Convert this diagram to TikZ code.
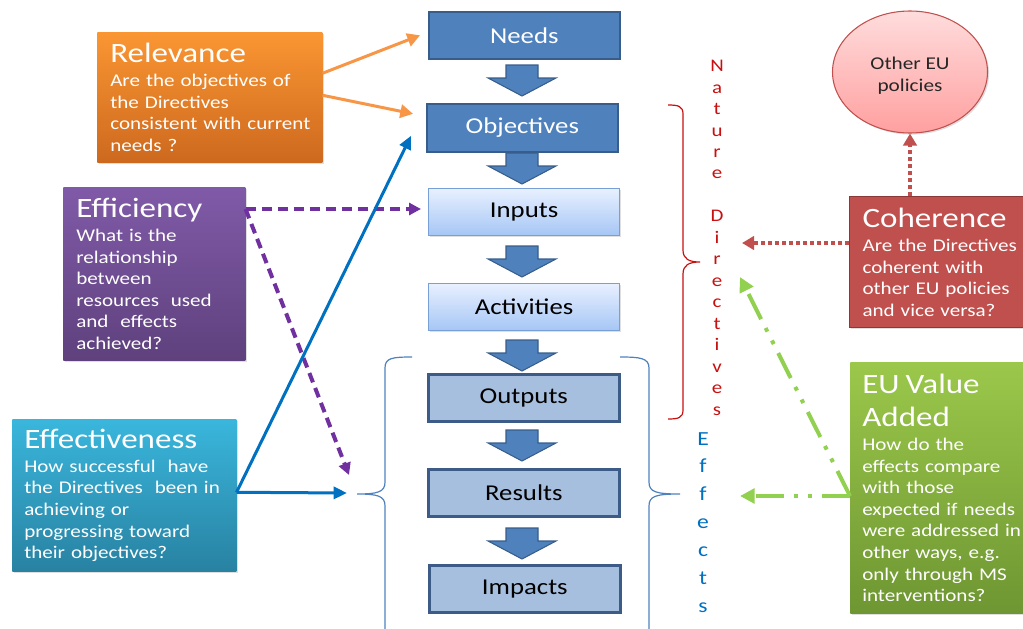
\documentclass[tikz,border=0pt]{standalone}
\usepackage{fontspec}
\setmainfont{Carlito}[FakeStretch=1.18]
\usetikzlibrary{arrows.meta,shapes.geometric,shadows,calc}
\newdimen\pu \pu=0.75pt
\definecolor{cblue}{RGB}{79,129,189}
\definecolor{cbord}{RGB}{56,93,138}
\definecolor{ltop}{RGB}{232,240,255}
\definecolor{lbot}{RGB}{165,198,245}
\definecolor{lbord}{RGB}{120,160,215}
\definecolor{mblue}{RGB}{167,191,222}
\definecolor{mbord}{RGB}{60,92,135}
\definecolor{orTop}{RGB}{250,150,50}
\definecolor{orBot}{RGB}{205,105,30}
\definecolor{orLine}{RGB}{247,150,70}
\definecolor{puTop}{RGB}{128,90,168}
\definecolor{puBot}{RGB}{95,65,125}
\definecolor{puLine}{RGB}{112,48,160}
\definecolor{cyTop}{RGB}{58,182,220}
\definecolor{cyBot}{RGB}{40,130,162}
\definecolor{blLine}{RGB}{0,112,192}
\definecolor{reFill}{RGB}{192,80,77}
\definecolor{reBord}{RGB}{140,56,54}
\definecolor{grTop}{RGB}{155,200,75}
\definecolor{grBot}{RGB}{110,150,50}
\definecolor{grLine}{RGB}{146,208,80}
\definecolor{elTop}{RGB}{255,220,220}
\definecolor{elBot}{RGB}{255,160,160}
\definecolor{elBord}{RGB}{192,80,77}
\definecolor{nred}{RGB}{200,16,16}
\definecolor{eblue}{RGB}{0,112,192}
\definecolor{brBlue}{RGB}{79,129,189}
\newcommand\ttl[1]{\mbox{\fontsize{21}{24}\selectfont #1}}
\newcommand\txtline[1]{\mbox{#1}}
\newcommand\fatarr[2]{\draw[fatarrow] (#1,#2) ++(-16,0) -- ++(32,0) -- ++(0,13) -- ++(18,0) -- ++(-34,18) -- ++(-34,-18) -- ++(18,0) -- cycle;}
\tikzset{
  shd/.style={drop shadow={shadow xshift=1.2pt,shadow yshift=-1.2pt,opacity=0.25}},
  cbox/.style={rectangle, anchor=north west, minimum width=191\pu, minimum height=47\pu, inner sep=0pt, font=\fontsize{17}{20}\selectfont, shd},
  dark/.style={cbox, fill=cblue, draw=cbord, line width=1.2pt, text=white},
  light/.style={cbox, top color=ltop, bottom color=lbot, draw=lbord, line width=0.9pt},
  mid/.style={cbox, fill=mblue, draw=mbord, line width=2pt},
  fatarrow/.style={fill=cblue, draw=cbord, line width=0.8pt},
  qbox/.style={rectangle, anchor=north west, inner xsep=13\pu, inner ysep=0pt, align=left, text=white, font=\fontsize{13.4}{16.2}\selectfont, shd},
  orarr/.style={draw=orLine, line width=2.25pt, -{Triangle[length=9.5pt,width=10pt]}},
  puarr/.style={draw=puLine, line width=3pt, dash pattern=on 7.5pt off 4.5pt, -{Triangle[length=9pt,width=9pt]}},
  blarr/.style={draw=blLine, line width=2.25pt, -{Triangle[length=10pt,width=9pt]}},
  rearr/.style={draw=reFill, line width=3pt, dash pattern=on 3pt off 2.25pt, -{Triangle[length=9pt,width=10pt]}},
  grarr/.style={draw=grLine, line width=3pt, dash pattern=on 21pt off 7.5pt on 3pt off 7.5pt on 3pt off 7.5pt, -{Triangle[length=11pt,width=11pt]}},
  bbrace/.style={draw=brBlue, line width=0.9pt},
  rbrace/.style={draw=nred, line width=0.9pt},
}
\begin{document}
\begin{tikzpicture}[x=0.75pt,y=-0.75pt]
\useasboundingbox (0,0) rectangle (1023,628);
% centre column
\node[dark]  (needs) at (428,11)  {Needs};
\node[dark, minimum height=48\pu]  (obj)   at (426,103) {Objectives};
\node[light] (inp)   at (428,188) {Inputs};
\node[light] (act)   at (428,283) {Activities};
\node[mid]   (out)   at (427,373) {Outputs};
\node[mid]   (res)   at (427,468) {Results};
\node[mid]   (imp)   at (428,564) {Impacts};
\fatarr{522}{65}
\fatarr{522}{153}
\fatarr{522}{246}
\fatarr{522}{340}
\fatarr{522}{430}
\fatarr{522}{528}
% braces
\draw[bbrace] (412,357) .. controls (392,357) and (385,358) .. (385,368) -- (385,482) .. controls (385,492) and (378,494) .. (357,494) .. controls (378,494) and (385,496) .. (385,506) -- (385,630);
\draw[bbrace] (620,357) .. controls (640,357) and (649,358) .. (649,368) -- (649,482) .. controls (649,492) and (656,494) .. (680,494) .. controls (656,494) and (649,496) .. (649,506) -- (649,630);
\draw[rbrace] (668,105) .. controls (678,105) and (683,106) .. (683,114) -- (683,250) .. controls (683,259) and (689,262) .. (700,262) .. controls (689,262) and (683,265) .. (683,274) -- (683,410) .. controls (683,418) and (678,419) .. (668,419);
% vertical texts
\node[font=\fontsize{13.3}{16.1}\selectfont, text=nred, align=center, anchor=north, inner sep=0pt] (nd) at (717,60) {N\\a\\t\\u\\r\\e\\\mbox{}\\D\\i\\r\\e\\c\\t\\i\\v\\e\\s};
\node[font=\fontsize{15}{20.9}\selectfont, text=eblue, align=center, anchor=north, inner sep=0pt] (ef) at (703,432) {E\\f\\f\\e\\c\\t\\s};
% question boxes
\node[qbox, top color=orTop, bottom color=orBot, minimum width=225\pu, minimum height=130\pu, text width=199\pu] (rel) at (97,32)
  {\ttl{Relevance}\\[2pt]\txtline{Are the objectives of}\\\txtline{the Directives}\\\txtline{consistent with current}\\\txtline{needs ?}};
\node[qbox, top color=puTop, bottom color=puBot, minimum width=182\pu, minimum height=173\pu, text width=156\pu] (eff) at (63,187)
  {\ttl{Efficiency}\\[2pt]\txtline{What is the}\\\txtline{relationship}\\\txtline{between}\\\txtline{resources\ \ used}\\\txtline{and\ \ effects}\\\txtline{achieved?}};
\node[qbox, top color=cyTop, bottom color=cyBot, inner xsep=12\pu, minimum width=224\pu, minimum height=152\pu, text width=200\pu] (efs) at (12,419)
  {\ttl{Effectiveness}\\[2pt]\txtline{How successful\ \ have}\\\txtline{the Directives\ \ been in}\\\txtline{achieving or}\\\txtline{progressing toward}\\\txtline{their objectives?}};
\node[qbox, fill=reFill, draw=reBord, line width=0.8pt, minimum width=174\pu, minimum height=131\pu, text width=148\pu] (coh) at (849,196)
  {\ttl{Coherence}\\[2pt]\txtline{Are the Directives}\\\txtline{coherent with}\\\txtline{other EU policies}\\\txtline{and vice versa?}};
\node[qbox, top color=grTop, bottom color=grBot, minimum width=173\pu, minimum height=251\pu, text width=149\pu, inner xsep=12\pu] (eva) at (850,362)
  {\ttl{EU Value}\\[8.5pt]\ttl{Added}\\[2pt]\txtline{How do the}\\\txtline{effects compare}\\\txtline{with those}\\\txtline{expected if needs}\\\txtline{were addressed in}\\\txtline{other ways, e.g.}\\\txtline{only through MS}\\\txtline{interventions?}};
\node[ellipse, top color=elTop, bottom color=elBot, draw=elBord, line width=0.8pt, minimum width=155\pu, minimum height=122\pu, font=\fontsize{13.5}{16.5}\selectfont, text=black!85, shd] (ell) at (910,72) {\raisebox{-3pt}[\height][\depth]{\begin{tabular}{@{}c@{}}Other EU\\policies\end{tabular}}};
% connector end points
\coordinate (ndA) at (742,243);
\coordinate (ndB) at (740,277);
\coordinate (efA) at (740,496);
\coordinate (lbA) at (349,475);
\coordinate (lbB) at (347,493);
\coordinate (effS) at ([yshift=-22\pu]eff.north east);
\coordinate (efsS) at ([yshift=3\pu]efs.east);
\coordinate (cohS) at (ndA -| coh.west);
\coordinate (evaS) at (efA -| eva.west);
% connectors
\draw[orarr] ([yshift=24\pu]rel.east) -- ([xshift=-8\pu]needs.west);
\draw[orarr] ([yshift=2\pu]rel.east) -- ([shift={(-13,-14)}]obj.west);
\draw[puarr] (effS) -- ([xshift=-7\pu]effS -| inp.west);
\draw[puarr] (effS) -- (lbA);
\draw[blarr] (efsS) -- ([shift={(-15,8)}]obj.west);
\draw[blarr] (efsS) -- (lbB);
\draw[rearr] (cohS) -- (ndA);
\draw[rearr] (ell.south |- coh.north) -- (ell.south);
\draw[grarr] (evaS) -- (efA);
\draw[grarr] (evaS) -- (ndB);
\end{tikzpicture}
\end{document}
